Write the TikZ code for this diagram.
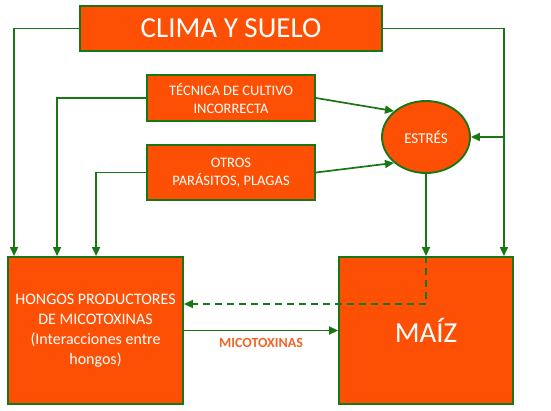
\documentclass[tikz,border=0pt]{standalone}
\usepackage{fontspec}
\setmainfont{Carlito}
\usetikzlibrary{shapes.geometric,arrows.meta,calc}
\definecolor{orng}{RGB}{254,80,5}
\definecolor{grn}{RGB}{25,118,20}
\definecolor{lbl}{RGB}{240,100,40}
\begin{document}
\begin{tikzpicture}[x=1pt,y=-1pt,
  box/.style={draw=grn,line width=1.9pt,fill=orng,text=white,align=center,inner sep=0pt},
  arr/.style={draw=grn,line width=1.7pt,-{Triangle[length=9pt,width=8pt]}}]
\useasboundingbox (0,0) rectangle (551,411);
\node[box,minimum width=302pt,minimum height=45pt,font=\fontsize{29}{34}\selectfont] (clima) at (231,28.5) {CLIMA Y SUELO};
\node[box,minimum width=168pt,minimum height=46pt,font=\fontsize{14.5}{18}\selectfont] (tec) at (231,98) {TÉCNICA DE CULTIVO\\INCORRECTA};
\node[box,minimum width=168pt,minimum height=55pt,font=\fontsize{14.5}{18}\selectfont] (otros) at (231,172.5) {OTROS\\PARÁSITOS, PLAGAS};
\node[box,ellipse,minimum width=88pt,minimum height=72pt,font=\fontsize{15}{18}\selectfont] (est) at (426,137) {ESTRÉS};
\node[box,minimum width=175pt,minimum height=147pt,font=\fontsize{16}{20}\selectfont] (hongos) at (95.5,330.5) {HONGOS PRODUCTORES\\DE MICOTOXINAS\\(Interacciones entre\\hongos)};
\node[box,minimum width=174pt,minimum height=147pt,font=\fontsize{29}{34}\selectfont] (maiz) at (426,330.5) {MAÍZ};
\coordinate (R) at ([xshift=-10pt]maiz.north east);
\draw[arr] (clima.west) -| ([xshift=7pt]hongos.north west);
\draw[arr] (clima.east) -| (R);
\draw[arr] (tec.west) -| ([xshift=50pt]hongos.north west);
\draw[arr] (otros.west) -| ([xshift=89pt]hongos.north west);
\draw[arr] (tec.east) -- (est.141);
\draw[arr] (otros.east) -- (est.219);
\draw[arr] (est.east -| R) -- (est.east);
\draw[arr] (est.south) -- (maiz.north);
\draw[arr,dash pattern=on 7pt off 5pt] (maiz.north) |- ([yshift=26.5pt]hongos.east);
\draw[arr] (hongos.east) -- node[below=4pt,text=lbl,font=\bfseries\fontsize{14}{16}\selectfont] (mic) {MICOTOXINAS} (maiz.west);
\end{tikzpicture}
\end{document}
